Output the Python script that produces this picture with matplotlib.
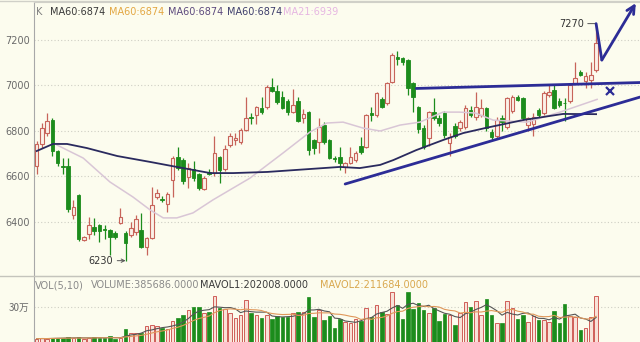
import matplotlib
matplotlib.use("Agg")
import matplotlib.pyplot as plt
from matplotlib.lines import Line2D
import numpy as np
import pandas as pd

# ---------------- data ----------------
opens = [6645, 6742, 6790, 6850, 6712, 6648, 6645, 6432, 6520, 6322,
         6348, 6380, 6385, 6370, 6365, 6350, 6397, 6352, 6343, 6355,
         6365, 6290, 6330, 6510, 6500, 6479, 6584, 6686, 6672, 6598,
         6633, 6611, 6545, 6618, 6615, 6685, 6633, 6738, 6760, 6751,
         6804, 6860, 6870, 6899, 6905, 6993, 6976, 6949, 6932, 6883,
         6932, 6857, 6883, 6760, 6751, 6826, 6760, 6680, 6686, 6641,
         6659, 6672, 6734, 6729, 6878, 6870, 6941, 6923, 7015, 7125,
         7120, 7112, 7011, 6905, 6813, 6769, 6883, 6855, 6879, 6747,
         6822, 6813, 6817, 6892, 6861, 6870, 6899, 6795, 6780, 6857,
         6817, 6890, 6949, 6946, 6826, 6830, 6892, 6877, 6958, 6978,
         6934, 6925, 6934, 7011, 7059, 7020, 7025, 7068]
highs = [6755, 6835, 6878, 6855, 6715, 6680, 6680, 6495, 6525, 6340,
         6422, 6418, 6390, 6385, 6370, 6360, 6462, 6360, 6400, 6430,
         6440, 6335, 6555, 6545, 6515, 6530, 6690, 6730, 6680, 6660,
         6670, 6615, 6600, 6635, 6778, 6690, 6740, 6790, 6790, 6815,
         6950, 6880, 6910, 6950, 7000, 7033, 7000, 6975, 6940, 6985,
         6950, 6895, 6890, 6765, 6857, 6840, 6765, 6690, 6730, 6665,
         6730, 6710, 6773, 6875, 6905, 6970, 6950, 7015, 7143, 7150,
         7125, 7115, 7015, 6910, 6825, 6890, 6945, 6870, 6890, 6790,
         6835, 6850, 6915, 6910, 6971, 6940, 6905, 6810, 6860, 6870,
         6950, 6960, 6960, 6950, 6860, 6880, 6900, 6975, 7000, 7000,
         6945, 6943, 7005, 7103, 7070, 7060, 7103, 7272]
lows = [6610, 6725, 6778, 6690, 6645, 6610, 6445, 6413, 6318, 6315,
        6324, 6342, 6311, 6325, 6255, 6325, 6390, 6230, 6335, 6345,
        6285, 6255, 6325, 6500, 6490, 6444, 6510, 6630, 6565, 6550,
        6580, 6540, 6540, 6605, 6600, 6571, 6625, 6730, 6740, 6745,
        6800, 6830, 6830, 6875, 6895, 6970, 6920, 6895, 6870, 6880,
        6840, 6835, 6694, 6700, 6705, 6745, 6675, 6665, 6629, 6615,
        6655, 6665, 6700, 6725, 6845, 6860, 6900, 6915, 7010, 7090,
        7090, 6960, 6883, 6791, 6720, 6735, 6850, 6820, 6770, 6690,
        6770, 6800, 6810, 6860, 6850, 6860, 6800, 6760, 6770, 6800,
        6810, 6880, 6930, 6850, 6800, 6780, 6860, 6870, 6950, 6895,
        6905, 6846, 6925, 7005, 7040, 6990, 6989, 7060]
closes = [6745, 6812, 6845, 6712, 6660, 6642, 6455, 6466, 6325, 6335,
          6388, 6362, 6362, 6365, 6335, 6333, 6420, 6308, 6373, 6412,
          6292, 6330, 6475, 6527, 6495, 6523, 6681, 6637, 6580, 6637,
          6593, 6550, 6593, 6613, 6703, 6627, 6720, 6778, 6770, 6804,
          6857, 6855, 6905, 6882, 6993, 6976, 6927, 6899, 6883, 6914,
          6846, 6875, 6716, 6725, 6817, 6751, 6681, 6675, 6659, 6659,
          6686, 6703, 6707, 6870, 6872, 6965, 6905, 7011, 7134, 7118,
          7103, 6987, 6949, 6808, 6729, 6883, 6855, 6835, 6782, 6773,
          6778, 6840, 6899, 6870, 6905, 6900, 6813, 6773, 6848, 6839,
          6943, 6949, 6936, 6855, 6855, 6860, 6870, 6965, 6971, 6899,
          6914, 6921, 7000, 7031, 7045, 7040, 7045, 7187]
volume_k = [53, 55, 53, 58, 60, 58, 64, 55, 64, 53,
            60, 64, 62, 55, 70, 53, 60, 126, 100, 95,
            100, 150, 160, 150, 135, 125, 191, 215, 240, 277,
            302, 302, 251, 263, 385, 290, 282, 256, 212, 238,
            354, 256, 238, 212, 238, 204, 230, 225, 225, 251,
            263, 263, 380, 225, 277, 199, 230, 134, 204, 186,
            173, 204, 194, 290, 220, 316, 263, 243, 420, 316,
            204, 420, 285, 333, 277, 251, 290, 191, 246, 238,
            160, 251, 342, 302, 347, 238, 358, 238, 173, 173,
            347, 290, 204, 238, 186, 230, 199, 199, 186, 269,
            173, 321, 230, 225, 121, 134, 225, 386]

# moving-average lines (vertices)
ma60_idx = [0, 3.1, 5.8, 9.6, 15.4, 21.7, 26.8, 33.2, 37.6, 44.1, 52.3, 58.0,
            61.8, 65.7, 68.2, 72.6, 77.7, 81.6, 85.8, 93.0, 100.7, 107.0]
ma60_val = [6712, 6743, 6743, 6725, 6690, 6664, 6642, 6615, 6615, 6620, 6633, 6642,
            6637, 6651, 6672, 6716, 6760, 6791, 6813, 6848, 6875, 6874]
ma21_idx = [3.9, 8.9, 14.0, 18.4, 21.7, 24.2, 26.8, 29.9, 33.7, 40.8, 47.1, 52.3,
            55.5, 58.6, 62.4, 65.7, 69.5, 73.3, 77.7, 80.8, 83.9, 87.3, 93.8,
            100.1, 107.2]
ma21_val = [6738, 6681, 6576, 6510, 6453, 6418, 6418, 6440, 6497, 6593, 6703, 6796,
            6835, 6839, 6813, 6800, 6826, 6839, 6883, 6883, 6879, 6848, 6839,
            6883, 6939]

price_ticks = [6400, 6600, 6800, 7000, 7200]
vol_tick = 300000
vol_tick_label = "30万"
high_label = "7270"
low_label = "6230"
legend_items = [("K", "#808080"), ("MA60:6874", "#3a3a3a"), ("MA60:6874", "#e3a743"),
                ("MA60:6874", "#5d4a7e"), ("MA60:6874", "#3e3e6c"), ("MA21:6939", "#e6b6e2")]
legend_x = [36, 50, 109, 168, 227, 283]
vol_items = [("VOL(5,10)", "#8a8a8a"), ("VOLUME:385686.0000", "#8a8a8a"),
             ("MAVOL1:202008.0000", "#3a3a3a"), ("MAVOL2:211684.0000", "#d9a84e")]
vol_x = [35, 91, 200, 320]

# hand-drawn annotation lines (data coordinates: candle index, price)
support_line = ([59.0, 115.4], [6567, 6949])
resist_line = ([72.6, 115.4], [6987, 7013])
cross_mark = (109.7, 6976)
zigzag = ([107.0, 108.1], [7272, 7112])
zigzag_arrow_end = (114.6, 7362)

# ---------------- drawing ----------------
BG = "#fcfcee"
UP_EDGE = "#c7645a"
UP_FACE = "#fbf1e8"
DOWN = "#1c8c1c"
NAVY = "#2c2c96"

W, H = 640, 342
fig = plt.figure(figsize=(6.4, 3.42), dpi=100, facecolor=BG)


def fx(px):
    return px / W


def fy(py):
    return 1 - py / H


ax = fig.add_axes([fx(34), fy(275), 1 - fx(34), fy(2) - fy(275)])
axv = fig.add_axes([fx(34), 0, 1 - fx(34), fy(276)])
for a in (ax, axv):
    a.set_facecolor(BG)
    a.set_xlim(-0.52, 115.4)
    for s in ("right", "bottom"):
        a.spines[s].set_visible(False)
    a.spines["left"].set_color("#a8a8a8")
    a.spines["top"].set_color("#d0d0c8")
    a.set_xticks([])
    a.tick_params(axis="y", length=0, pad=3, labelsize=7, labelcolor="#6a6a6a")

ax.set_ylim(6167, 7367)
axv.set_ylim(27000, 541000)

o = np.array(opens, float)
h = np.array(highs, float)
l = np.array(lows, float)
c = np.array(closes, float)
v = np.array(volume_k, float) * 1000
x = np.arange(len(o))
up = c >= o

# grid
ax.set_yticks(price_ticks)
ax.set_yticklabels([str(t) for t in price_ticks])
ax.grid(axis="y", color="#cfcfc4", linestyle=(0, (1, 2)), linewidth=0.8)
ax.set_axisbelow(True)

# wicks
ax.vlines(x[up], l[up], h[up], color=UP_EDGE, linewidth=0.9, zorder=2)
ax.vlines(x[~up], l[~up], h[~up], color=DOWN, linewidth=0.9, zorder=2)
# bodies
body_lo = np.minimum(o, c)
body_h = np.maximum(np.abs(c - o), 4)
ax.bar(x[up], body_h[up], bottom=body_lo[up], width=0.68, facecolor=UP_FACE,
       edgecolor=UP_EDGE, linewidth=0.8, zorder=3)
ax.bar(x[~up], body_h[~up], bottom=body_lo[~up], width=0.68, facecolor=DOWN,
       edgecolor=DOWN, linewidth=0.6, zorder=3)

# moving averages
ax.plot(ma21_idx, ma21_val, color="#d9c6d6", linewidth=1.1, zorder=4)
ax.plot(ma60_idx, ma60_val, color="#2a2a5e", linewidth=1.3, zorder=4)

# hand-drawn annotations
ax.plot(*support_line, color=NAVY, linewidth=2.0, zorder=5, solid_capstyle="round")
ax.plot(*resist_line, color=NAVY, linewidth=2.0, zorder=5, solid_capstyle="round")
ax.plot([cross_mark[0]], [cross_mark[1]], marker="x", markersize=6, mew=1.6,
        color=NAVY, zorder=5)
ax.plot(*zigzag, color=NAVY, linewidth=2.0, zorder=5, solid_capstyle="round")
ax.annotate("", xy=zigzag_arrow_end, xytext=(zigzag[0][1], zigzag[1][1]),
            arrowprops=dict(arrowstyle="->", color=NAVY, lw=2.0, mutation_scale=14,
                            shrinkA=0, shrinkB=0), zorder=5, annotation_clip=False)

# high / low labels
ax.annotate(high_label, xy=(x[-1], h[-1]), xytext=(-9, 0), textcoords="offset points",
            ha="right", va="center", fontsize=7, color="#333333",
            arrowprops=dict(arrowstyle="-", color="#555555", lw=0.7, shrinkA=1, shrinkB=0))
imin = int(np.argmin(l))
ax.annotate(low_label, xy=(x[imin], l[imin]), xytext=(-9, 0), textcoords="offset points",
            ha="right", va="center", fontsize=7, color="#333333",
            arrowprops=dict(arrowstyle="->", color="#555555", lw=0.7, shrinkA=1, shrinkB=0,
                            mutation_scale=6))

# legend-like header texts
for (t, col), px in zip(legend_items, legend_x):
    fig.text(fx(px), fy(12), t, color=col, fontsize=7, ha="left", va="center")

# ---------------- volume ----------------
axv.bar(x[up], v[up], bottom=0, width=0.68, facecolor="#f8e2d8", edgecolor="#cf5e58",
        linewidth=0.7, zorder=3)
axv.bar(x[~up], v[~up], bottom=0, width=0.68, facecolor=DOWN, edgecolor=DOWN,
        linewidth=0.5, zorder=3)
vs = pd.Series(v)
axv.plot(x, vs.rolling(5, min_periods=1).mean(), color="#555555", linewidth=0.8, zorder=4)
axv.plot(x, vs.rolling(10, min_periods=1).mean(), color="#e0985a", linewidth=0.8, zorder=4)
axv.set_yticks([vol_tick])
axv.set_yticklabels([vol_tick_label], family=["Noto Sans CJK SC", "DejaVu Sans"])
axv.grid(axis="y", color="#cfcfc4", linestyle=(0, (1, 2)), linewidth=0.8)
axv.set_axisbelow(True)
for (t, col), px in zip(vol_items, vol_x):
    fig.text(fx(px), fy(285), t, color=col, fontsize=7, ha="left", va="center")

# separator between panels
fig.add_artist(Line2D([0, 1], [fy(275.5)] * 2, transform=fig.transFigure,
                      color="#c4c4bc", linewidth=1.0))
fig.add_artist(Line2D([0, 1], [fy(0.5)] * 2, transform=fig.transFigure,
                      color="#d0d0c8", linewidth=1.0))

fig.savefig("out.png", dpi=100, facecolor=BG)
